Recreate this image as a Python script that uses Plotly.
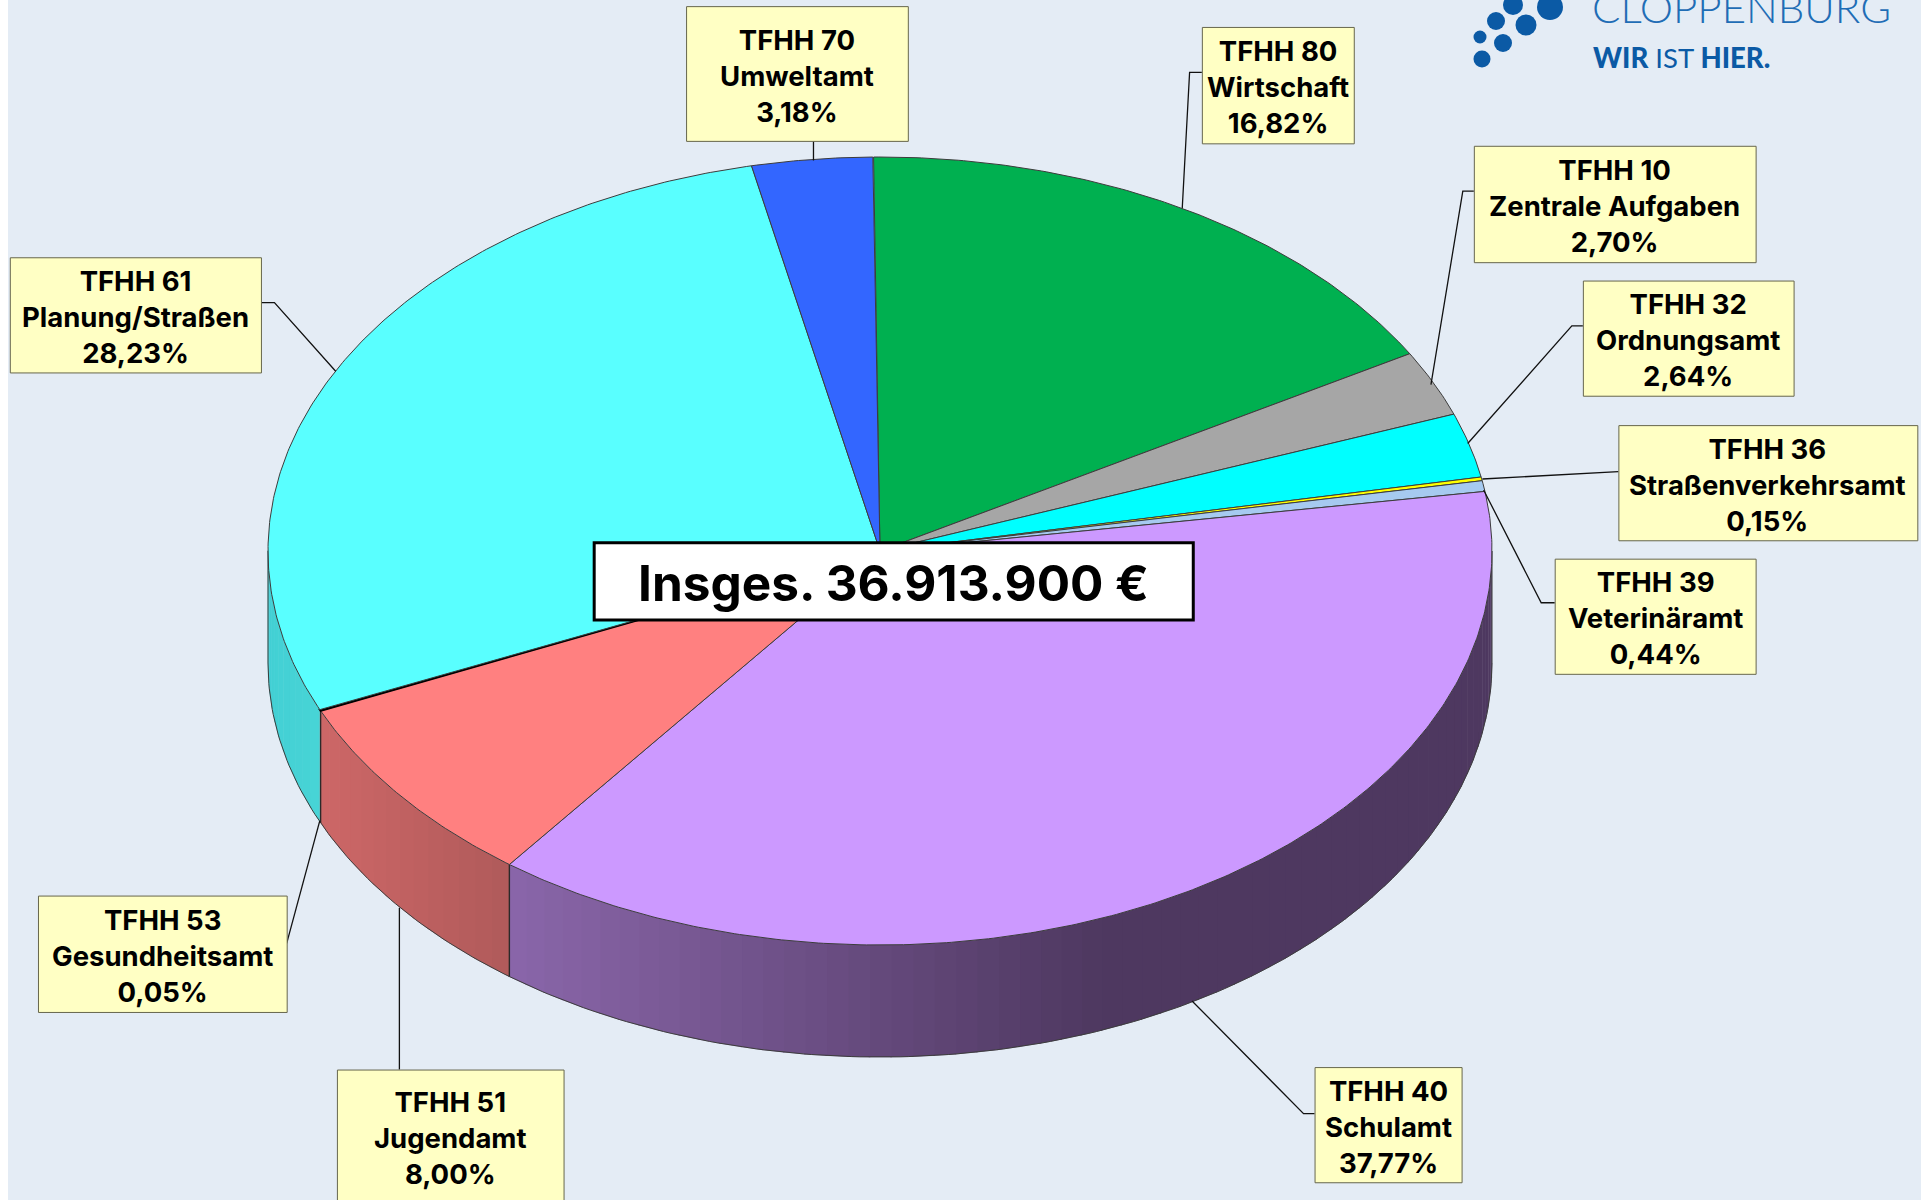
import numpy as np
import plotly.graph_objects as go

# ---- data (clockwise from 12 o'clock) ----
codes = ["TFHH 80", "TFHH 10", "TFHH 32", "TFHH 36", "TFHH 39", "TFHH 40", "TFHH 51", "TFHH 53", "TFHH 61", "TFHH 70"]
names = ["Wirtschaft", "Zentrale Aufgaben", "Ordnungsamt", "Straßenverkehrsamt", "Veterinäramt",
         "Schulamt", "Jugendamt", "Gesundheitsamt", "Planung/Straßen", "Umweltamt"]
shares = [16.82, 2.70, 2.64, 0.15, 0.44, 37.77, 8.00, 0.05, 28.23, 3.18]
colors = ["#00b050", "#a6a6a6", "#00ffff", "#ffff00", "#a6caf0", "#cc99ff", "#ff8080", "#000000", "#59ffff", "#3366ff"]
total_label = "Insges. 36.913.900 €"

# ---- layout constants (pixel units on the axes) ----
W, H = 1921, 1200
S = 1921 / 1568
CX, CY, RX, RY, DEPTH = 880, 551, 612, 394, 112
START = -0.6
BG = "#e4ecf5"
OUT = "#3c3c3c"
FONT = "Inter"
# label boxes in the order of `codes`: x0, y0, x1, y1
boxes = [(981, 22, 1105, 117), (1203, 119, 1433, 214), (1292, 229, 1464, 323), (1321, 347, 1565, 441),
         (1269, 456, 1433, 550), (1073, 871, 1193, 965), (275, 873, 460, 990), (31, 731, 234, 826),
         (8, 210, 213, 304), (560, 5, 741, 115)]
leaders = [[(981, 59), (971, 59), (965, 170)], [(1203, 156), (1194, 156), (1168, 314)],
           [(1292, 266), (1283, 266), (1198, 362)], [(1321, 385), (1210, 391)],
           [(1269, 492), (1258, 492), (1211, 400)], [(1073, 909), (1064, 909), (973, 817)],
           [(326, 873), (326, 741)], [(234, 770), (261, 670)],
           [(213, 247), (224, 247), (274, 303)], [(664, 115), (664, 131)]]
wall_grad = {5: ((138, 102, 170), (78, 56, 96)), 6: ((205, 103, 103), (176, 90, 90)), 8: ((66, 208, 212), (72, 212, 214))}


def rim(deg, depth=0):
    t = np.radians(deg)
    return CX + RX * np.sin(t), CY - RY * np.cos(t) + depth


fig = go.Figure()
edges = np.concatenate([[0], np.cumsum(shares)]) * 3.6 + START


def add_poly(xs, ys, fill, line=None, width=1):
    fig.add_trace(go.Scatter(x=xs, y=ys, mode="lines", fill="toself", fillcolor=fill,
                             line=dict(color=line or fill, width=width), hoverinfo="skip", showlegend=False))


# side wall, built in thin strips so it can carry a horizontal shade
for i, (a0, a1) in enumerate(zip(edges[:-1], edges[1:])):
    lo, hi = max(a0, 90), min(a1, 270)
    if lo >= hi or i not in wall_grad:
        continue
    c_dark_side, c_light_side = wall_grad[i]
    steps = max(3, int((hi - lo) / 2))
    grid = np.linspace(lo, hi, steps + 1)
    xl = rim(hi)[0]
    xr = 1100 if i == 5 else rim(lo)[0]
    for b0, b1 in zip(grid[:-1], grid[1:]):
        mid = rim((b0 + b1) / 2)[0]
        f = np.clip((mid - xl) / max(xr - xl, 1), 0, 1)
        col = tuple(int(round(p + (q - p) * f)) for p, q in zip(c_dark_side, c_light_side))
        ang = np.linspace(b0, b1 + 0.15, 4)
        tx, ty = rim(ang)
        bx, by = rim(ang[::-1], DEPTH)
        add_poly(list(tx) + list(bx), list(ty) + list(by), f"rgb{col}", width=0.5)

# wall outlines
ang = np.linspace(90, 270, 240)
bx, by = rim(ang, DEPTH)
fig.add_trace(go.Scatter(x=bx, y=by, mode="lines", line=dict(color=OUT, width=1), hoverinfo="skip", showlegend=False))
rx, ry = rim(np.array([90, 270]))
for x0, y0 in zip(rx, ry):
    fig.add_trace(go.Scatter(x=[x0, x0], y=[y0, y0 + DEPTH], mode="lines", line=dict(color=OUT, width=1),
                             hoverinfo="skip", showlegend=False))
for a in (edges[6], edges[7]):
    x0, y0 = rim(a)
    fig.add_trace(go.Scatter(x=[x0, x0], y=[y0, y0 + DEPTH], mode="lines", line=dict(color="#2a2a2a", width=1.4),
                             hoverinfo="skip", showlegend=False))

# top face
for i, (a0, a1) in enumerate(zip(edges[:-1], edges[1:])):
    ang = np.linspace(a0, a1, max(2, int((a1 - a0) * 2) + 2))
    x, y = rim(ang)
    add_poly([CX] + list(x) + [CX], [CY] + list(y) + [CY], colors[i],
             line="#000000" if i == 7 else OUT, width=2 if i == 7 else 1)

# leader lines
for i, pts in enumerate(leaders):
    fig.add_trace(go.Scatter(x=[p[0] * S for p in pts], y=[p[1] * S for p in pts], mode="lines",
                             line=dict(color="#111111", width=1.3), hoverinfo="skip", showlegend=False))

# logo dots
dot_x = [1480, 1482, 1496, 1503, 1513, 1526, 1550]
dot_y = [37, 59, 21, 43, 5, 25, 7]
dot_d = [13, 17, 18, 18, 20, 21, 26]
fig.add_trace(go.Scatter(x=dot_x, y=dot_y, mode="markers",
                         marker=dict(size=dot_d, color="#0b5aa5", opacity=1, line=dict(width=0)),
                         hoverinfo="skip", showlegend=False))

shapes = [dict(type="rect", xref="x", yref="y", x0=8, x1=W, y0=0, y1=H, fillcolor=BG, line_width=0, layer="below")]
ann = []
for code, name, share, b in zip(codes, names, shares, boxes):
    x0, y0, x1, y1 = [v * S for v in b]
    shapes.append(dict(type="rect", xref="x", yref="y", x0=x0 + 0.5, x1=x1 + 0.5, y0=y0 + 0.5, y1=y1 + 0.5,
                       fillcolor="#ffffc4", line=dict(color="#66664d", width=1), layer="above"))
    txt = f"{code}<br>{name}<br>{share:.2f}%".replace(".", ",")
    yc = y0 + 56 * S if b[1] == 873 else (y0 + y1) / 2 + 2
    ann.append(dict(x=(x0 + x1) / 2, y=yc, xref="x", yref="y", text=txt, showarrow=False, align="center",
                    xanchor="center", yanchor="middle",
                    font=dict(family=FONT, size=27.5, color="#000000", weight=700)))

x0, y0, x1, y1 = [v * S for v in (485, 443, 974, 506)]
shapes.append(dict(type="rect", xref="x", yref="y", x0=x0, x1=x1, y0=y0, y1=y1, fillcolor="#ffffff",
                   line=dict(color="#000000", width=3), layer="above"))
ann.append(dict(x=(x0 + x1) / 2, y=(y0 + y1) / 2 + 2, xref="x", yref="y", text=total_label, showarrow=False,
                xanchor="center", yanchor="middle", font=dict(family=FONT, size=49.5, color="#000000", weight=700)))
ann.append(dict(x=1591, y=33, xref="x", yref="y", text="CLOPPENBURG", showarrow=False, xanchor="left", yanchor="bottom",
                borderpad=0, font=dict(family="Lato", size=42, color="#1f6db5", weight=300)))
ann.append(dict(x=1591, y=57, xref="x", yref="y",
                text='<span style="font-weight:900">WIR</span> IST <span style="font-weight:900">HIER.</span>',
                showarrow=False, xanchor="left", yanchor="middle", font=dict(family="Lato", size=27.5, color="#0b5aa5")))

fig.update_layout(
    width=W, height=H, margin=dict(l=0, r=0, t=0, b=0), paper_bgcolor="#ffffff", plot_bgcolor="#ffffff",
    showlegend=False, shapes=shapes, annotations=ann,
    xaxis=dict(range=[0, W], visible=False, fixedrange=True),
    yaxis=dict(range=[H, 0], visible=False, fixedrange=True),
)
fig.write_html("out.html", config={"displayModeBar": False},
               post_script="document.body.style.margin='0';document.documentElement.style.overflow='hidden';")
